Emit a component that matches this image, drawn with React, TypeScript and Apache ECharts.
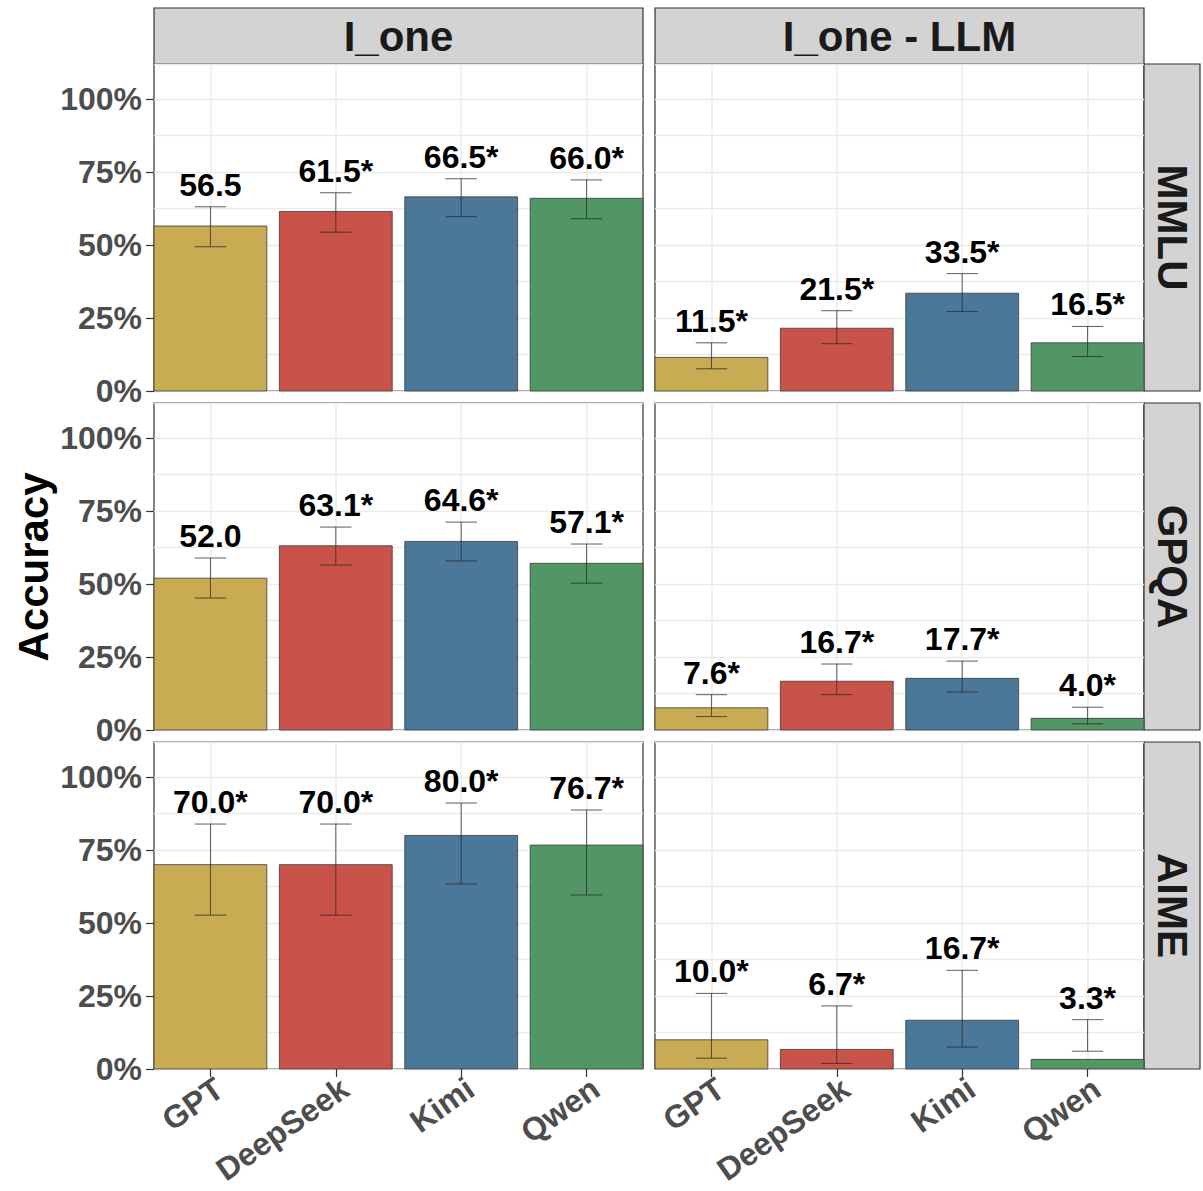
import React, { useEffect, useRef } from 'react';
import * as echarts from 'echarts';

const models = ['GPT', 'DeepSeek', 'Kimi', 'Qwen'];
const benchmarks = ['MMLU', 'GPQA', 'AIME'];
const conditions = ['I_one', 'I_one - LLM'];
const yTickValues = [0, 25, 50, 75, 100];
const barColors = ['#C8AB52', '#C9534B', '#4B7899', '#529666'];

// MMLU
const mmluOneAcc = [56.5, 61.5, 66.5, 66.0];
const mmluOneLo = [49.4, 54.4, 59.7, 59.0];
const mmluOneHi = [63.1, 67.9, 72.7, 72.3];
const mmluOneSig = [false, true, true, true];
const mmluLlmAcc = [11.5, 21.5, 33.5, 16.5];
const mmluLlmLo = [7.6, 16.2, 27.2, 11.8];
const mmluLlmHi = [16.5, 27.5, 40.2, 22.1];
const mmluLlmSig = [true, true, true, true];
// GPQA
const gpqaOneAcc = [52.0, 63.1, 64.6, 57.1];
const gpqaOneLo = [45.2, 56.5, 57.9, 50.3];
const gpqaOneHi = [58.9, 69.5, 71.2, 63.7];
const gpqaOneSig = [false, true, true, true];
const gpqaLlmAcc = [7.6, 16.7, 17.7, 4.0];
const gpqaLlmLo = [4.6, 12.1, 13.0, 2.1];
const gpqaLlmHi = [12.1, 22.6, 23.6, 7.8];
const gpqaLlmSig = [true, true, true, true];
// AIME
const aimeOneAcc = [70.0, 70.0, 80.0, 76.7];
const aimeOneLo = [52.7, 52.7, 63.4, 59.6];
const aimeOneHi = [83.9, 83.9, 91.1, 88.7];
const aimeOneSig = [true, true, true, true];
const aimeLlmAcc = [10.0, 6.7, 16.7, 3.3];
const aimeLlmLo = [3.7, 1.9, 7.5, 6.1];
const aimeLlmHi = [25.9, 21.6, 33.8, 16.9];
const aimeLlmSig = [true, true, true, true];

const panels = [
  { acc: mmluOneAcc, lo: mmluOneLo, hi: mmluOneHi, sig: mmluOneSig },
  { acc: mmluLlmAcc, lo: mmluLlmLo, hi: mmluLlmHi, sig: mmluLlmSig },
  { acc: gpqaOneAcc, lo: gpqaOneLo, hi: gpqaOneHi, sig: gpqaOneSig },
  { acc: gpqaLlmAcc, lo: gpqaLlmLo, hi: gpqaLlmHi, sig: gpqaLlmSig },
  { acc: aimeOneAcc, lo: aimeOneLo, hi: aimeOneHi, sig: aimeOneSig },
  { acc: aimeLlmAcc, lo: aimeLlmLo, hi: aimeLlmHi, sig: aimeLlmSig },
];

const FONT = '"Liberation Sans", Arial, Helvetica, sans-serif';
const colLeft = [154, 655];
const panelW = 489;
const rowTop = [64, 403, 742];
const panelH = 327;
const stripSize = 56;
const Y_MAX = 112;

export default function App() {
  const ref = useRef<HTMLDivElement>(null);
  useEffect(() => {
    document.body.style.margin = '0';
    if (!ref.current) return;
    const chart = echarts.init(ref.current, null, { renderer: 'svg' });

    const grids: any[] = [];
    const xAxes: any[] = [];
    const yAxes: any[] = [];
    const series: any[] = [];

    panels.forEach((pd, p) => {
      const row = Math.floor(p / 2);
      const col = p % 2;
      const isBottom = row === 2;
      const isLeft = col === 0;
      grids.push({
        left: colLeft[col],
        top: rowTop[row],
        width: panelW,
        height: panelH,
        show: true,
        backgroundColor: '#ffffff',
        borderColor: '#333333',
        borderWidth: 1.2,
        containLabel: false,
        outerBoundsMode: 'none',
      });
      xAxes.push({
        type: 'value',
        gridIndex: p,
        min: 0.55,
        max: 4.45,
        axisLine: { show: false },
        axisTick: {
          show: isBottom,
          customValues: [1, 2, 3, 4],
          length: 8,
          lineStyle: { color: '#333333', width: 1.2 },
        },
        axisLabel: {
          show: isBottom,
          customValues: [1, 2, 3, 4],
          formatter: (v: number) => models[Math.round(v) - 1] || '',
          rotate: 35,
          margin: 3,
          align: 'right',
          verticalAlign: 'top',
          fontFamily: FONT,
          fontSize: 32,
          fontWeight: 'bold',
          color: '#4d4d4d',
        },
        splitLine: { show: true, lineStyle: { color: '#ebebeb', width: 1.5 } },
      });
      // grid lines axis
      yAxes.push({
        type: 'value',
        gridIndex: p,
        position: 'left',
        min: 0,
        max: Y_MAX,
        interval: 12.5,
        axisLine: { show: false },
        axisTick: { show: false },
        axisLabel: { show: false },
        splitLine: { show: true, lineStyle: { color: '#ebebeb', width: 1.3 } },
      });
      // labels axis
      yAxes.push({
        type: 'value',
        gridIndex: p,
        position: 'left',
        offset: 0,
        min: 0,
        max: Y_MAX,
        axisLine: { show: false },
        axisTick: {
          show: isLeft,
          customValues: yTickValues,
          length: 8,
          lineStyle: { color: '#333333', width: 1.2 },
        },
        axisLabel: {
          show: isLeft,
          customValues: yTickValues,
          formatter: (v: number) => `${v}%`,
          margin: 12,
          fontFamily: FONT,
          fontSize: 32,
          fontWeight: 'bold',
          color: '#4d4d4d',
        },
        splitLine: { show: false },
      });

      const labels = pd.acc.map((a, k) => `${a.toFixed(1)}${pd.sig[k] ? '*' : ''}`);
      series.push({
        type: 'custom',
        xAxisIndex: p,
        yAxisIndex: 2 * p,
        encode: { x: 0, y: 1 },
        data: models.map((m, k) => [k + 1, pd.acc[k], pd.lo[k], pd.hi[k]]),
        renderItem: (params: any, api: any) => {
          const i = params.dataIndex;
          const x = api.value(0);
          const v = api.value(1);
          const lo = api.value(2);
          const hi = api.value(3);
          const a = api.coord([x - 0.45, 0]);
          const b = api.coord([x + 0.45, v]);
          const c = api.coord([x, lo]);
          const d = api.coord([x, hi]);
          const cl = api.coord([x - 0.125, hi])[0];
          const cr = api.coord([x + 0.125, hi])[0];
          const errStyle = { stroke: 'rgba(40,40,40,0.75)', lineWidth: 1 };
          return {
            type: 'group',
            children: [
              {
                type: 'rect',
                shape: { x: a[0], y: b[1], width: b[0] - a[0], height: a[1] - b[1] },
                style: { fill: barColors[i], stroke: '#3a3a3a', lineWidth: 0.8 },
              },
              { type: 'line', shape: { x1: c[0], y1: c[1], x2: d[0], y2: d[1] }, style: errStyle },
              { type: 'line', shape: { x1: cl, y1: d[1], x2: cr, y2: d[1] }, style: errStyle },
              { type: 'line', shape: { x1: cl, y1: c[1], x2: cr, y2: c[1] }, style: errStyle },
              {
                type: 'text',
                x: d[0],
                y: d[1] - 6,
                style: {
                  text: labels[i],
                  fill: '#000000',
                  fontFamily: FONT,
                  fontSize: 32,
                  fontWeight: 'bold',
                  align: 'center',
                  verticalAlign: 'bottom',
                },
              },
            ],
          };
        },
      });
    });

    const graphics: any[] = [];
    conditions.forEach((c, ci) => {
      graphics.push({
        type: 'rect',
        shape: { x: colLeft[ci], y: rowTop[0] - stripSize, width: panelW, height: stripSize },
        style: { fill: '#d3d3d3', stroke: '#333333', lineWidth: 1.2 },
      });
      graphics.push({
        type: 'text',
        x: colLeft[ci] + panelW / 2,
        y: rowTop[0] - stripSize / 2,
        style: {
          text: c,
          fill: '#1a1a1a',
          fontFamily: FONT,
          fontSize: 42,
          fontWeight: 'bold',
          align: 'center',
          verticalAlign: 'middle',
        },
      });
    });
    benchmarks.forEach((bm, ri) => {
      const sx = colLeft[1] + panelW;
      graphics.push({
        type: 'rect',
        shape: { x: sx, y: rowTop[ri], width: stripSize, height: panelH },
        style: { fill: '#d3d3d3', stroke: '#333333', lineWidth: 1.2 },
      });
      graphics.push({
        type: 'text',
        x: sx + stripSize / 2,
        y: rowTop[ri] + panelH / 2,
        rotation: -Math.PI / 2,
        style: {
          text: bm,
          fill: '#1a1a1a',
          fontFamily: FONT,
          fontSize: 42,
          fontWeight: 'bold',
          align: 'center',
          verticalAlign: 'middle',
        },
      });
    });
    graphics.push({
      type: 'text',
      x: 33,
      y: 567,
      rotation: Math.PI / 2,
      style: {
        text: 'Accuracy',
        fill: '#000000',
        fontFamily: FONT,
        fontSize: 42,
        fontWeight: 'bold',
        align: 'center',
        verticalAlign: 'middle',
      },
    });

    chart.setOption({
      animation: false,
      backgroundColor: '#ffffff',
      grid: grids,
      xAxis: xAxes,
      yAxis: yAxes,
      series,
      graphic: { elements: graphics },
    });
    return () => chart.dispose();
  }, []);
  return <div ref={ref} style={{ width: 1203, height: 1191 }} />;
}
